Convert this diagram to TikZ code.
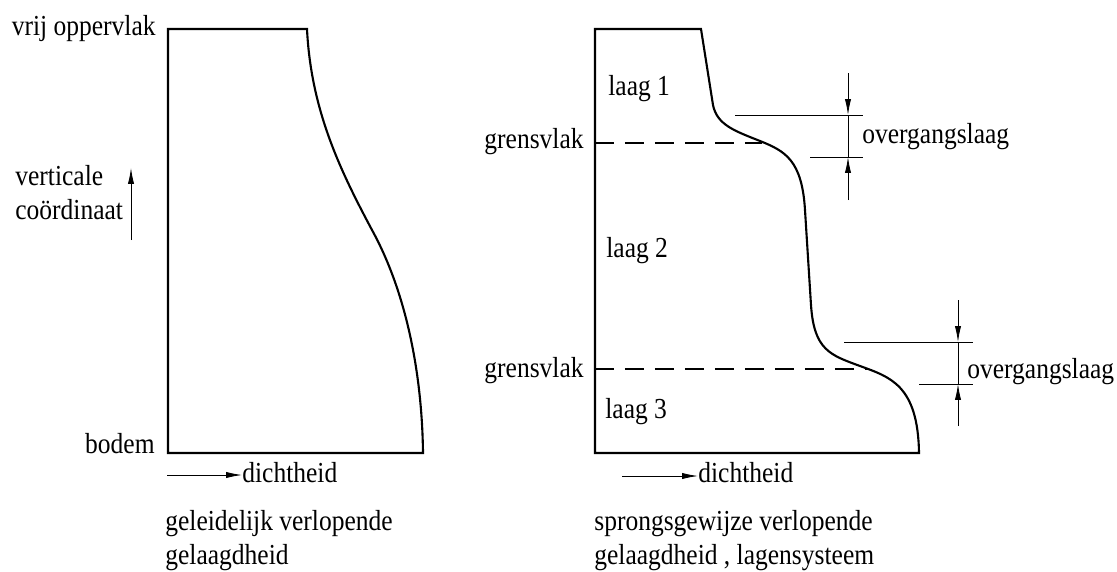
\documentclass[tikz,border=0pt]{standalone}
\usepackage{fontspec}
\setmainfont{Liberation Serif}[FakeStretch=0.88]
\usetikzlibrary{arrows.meta}

\begin{document}
\begin{tikzpicture}[x=0.02cm, y=-0.02cm,
        every node/.style={inner sep=0pt, font=\fontsize{16.5}{19.3}\selectfont},
        profiel/.style={line width=1.2pt, line join=miter},
        maat/.style={line width=0.5pt},
        pijl/.style={line width=0.5pt, -{Latex[length=9pt, width=3.5pt]}},
        grens/.style={line width=1.2pt, dash pattern=on 0.38cm off 0.22cm}]
    \useasboundingbox (0,0) rectangle (1117,572);

    % geleidelijk verlopende gelaagdheid
    \coordinate (LO) at (168,453);
    \coordinate (LB) at (168,29);
    \coordinate (LR) at (307,29);
    \coordinate (LM) at (372,230);
    \coordinate (LE) at (423,453);
    \draw[profiel] (LO) -- (LB) -- (LR)
        .. controls (311,110) and (340,170) .. (LM)
        .. controls (405,290) and (422,370) .. (LE) -- cycle;

    \node[anchor=base east] (opp) at (156,35) {vrij oppervlak};
    \node[anchor=north west, align=left] (vert) at (15,165) {verticale\\coördinaat};
    \coordinate (V1) at (131,240);
    \coordinate (V2) at (131,168);
    \draw[pijl] (V1) -- (V2);
    \node[anchor=base east] (bodem) at (155,453) {bodem};

    \coordinate (D1) at (167,475);
    \node[anchor=base west] (dicht1) at (242,482) {dichtheid};
    \draw[pijl] (D1) -- (dicht1.west |- D1);
    \node[anchor=north west, align=left] (tit1) at (165,510) {geleidelijk verlopende\\gelaagdheid};

    % sprongsgewijze verlopende gelaagdheid
    \coordinate (RO) at (595,453);
    \coordinate (RB) at (595,29);
    \coordinate (RR) at (701,29);
    \coordinate (RE) at (919,453);
    \draw[profiel] (RO) -- (RB) -- (RR) -- (713,105)
        .. controls (717,125) and (735,131) .. (760,141)
        .. controls (785,151) and (802,160) .. (805,210) -- (811,305)
        .. controls (814,350) and (830,355) .. (860,366)
        .. controls (890,377) and (918,385) .. (RE) -- cycle;

    \coordinate (G1) at (595,143);
    \coordinate (G1e) at (762,143);
    \coordinate (G2) at (595,369);
    \coordinate (G2e) at (868,369);
    \draw[grens] (G1) -- (G1e);
    \draw[grens] (G2) -- (G2e);

    \node[anchor=base east] (gv1) at (584,148) {grensvlak};
    \node[anchor=base east] (gv2) at (584,377) {grensvlak};
    \node[anchor=base west] (laag1) at (608,95) {laag 1};
    \node[anchor=base west] (laag2) at (606,257) {laag 2};
    \node[anchor=base west] (laag3) at (605,418) {laag 3};

    % overgangslaag boven
    \coordinate (A1) at (735,115);
    \coordinate (A2) at (863,115);
    \coordinate (B1) at (810,157);
    \coordinate (B2) at (863,157);
    \draw[maat] (A1) -- (A2);
    \draw[maat] (B1) -- (B2);
    \coordinate (P1) at (848,73);
    \coordinate (P2) at (848,200);
    \draw[pijl] (P1) -- (P1 |- A1);
    \draw[pijl] (P2) -- (P2 |- B1);
    \draw[maat] (P1 |- A1) -- (P2 |- B1);
    \node[anchor=base west] (og1) at (862,143) {overgangslaag};

    % overgangslaag onder
    \coordinate (C1) at (844,342);
    \coordinate (C2) at (973,342);
    \coordinate (E1) at (919,384);
    \coordinate (E2) at (973,384);
    \draw[maat] (C1) -- (C2);
    \draw[maat] (E1) -- (E2);
    \coordinate (Q1) at (958,300);
    \coordinate (Q2) at (958,426);
    \draw[pijl] (Q1) -- (Q1 |- C1);
    \draw[pijl] (Q2) -- (Q2 |- E1);
    \draw[maat] (Q1 |- C1) -- (Q2 |- E1);
    \node[anchor=base west] (og2) at (967,378) {overgangslaag};

    \coordinate (D2) at (622,476);
    \node[anchor=base west] (dicht2) at (698,482) {dichtheid};
    \draw[pijl] (D2) -- (dicht2.west |- D2);
    \node[anchor=north west, align=left] (tit2) at (594,510) {sprongsgewijze verlopende\\gelaagdheid , lagensysteem};
\end{tikzpicture}
\end{document}
